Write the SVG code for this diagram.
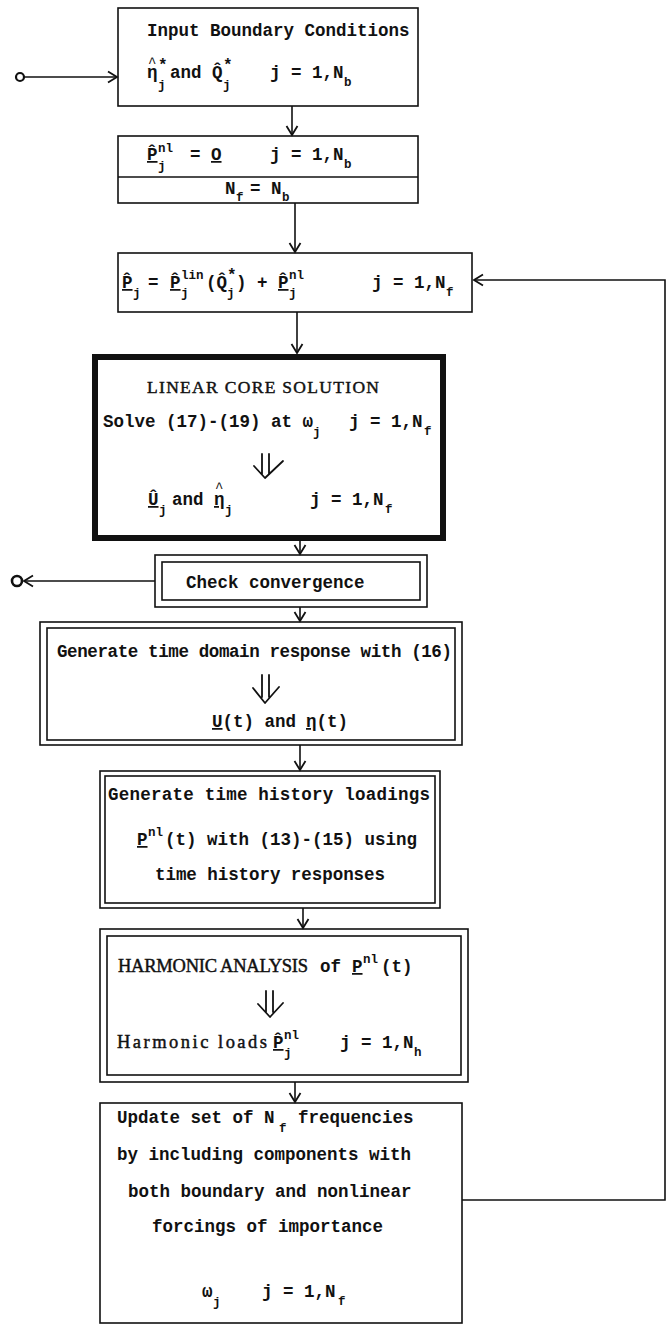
<svg xmlns="http://www.w3.org/2000/svg" width="667" height="1325" viewBox="0 0 667 1325">
  <style>
    .t { font-family: "Liberation Mono", "Courier New", monospace; font-size: 17.5px; font-weight: bold; fill: #111; }
    .s { font-size: 12.5px; }
    .st { font-size: 16px; }
    .hat { font-size: 14px; font-weight: normal; }
    .rm { font-family: "Liberation Serif", "Times New Roman", serif; font-weight: normal; stroke: #111; stroke-width: 0.45; }
    .u { text-decoration: underline; }
    .box { fill: none; stroke: #111; stroke-width: 1.6; }
    .thick { fill: none; stroke: #111; stroke-width: 6; }
    .wire { fill: none; stroke: #111; stroke-width: 1.6; }
    .sym { fill: none; stroke: #111; stroke-width: 1.8; stroke-linecap: round; stroke-linejoin: round; }
  </style>
  <defs>
    <marker id="vhead" markerUnits="userSpaceOnUse" markerWidth="14" markerHeight="14" viewBox="-10 -7 12 14" refX="0" refY="0" orient="auto">
      <path d="M-9,-5.5 L0,0 L-9,5.5" fill="none" stroke="#111" stroke-width="1.8"/>
    </marker>
  </defs>

  <rect width="667" height="1325" fill="#fff"/>

  <!-- connectors -->
  <g id="connectors">
    <circle cx="20" cy="77" r="4" fill="none" stroke="#111" stroke-width="2.2"/>
    <line class="wire" x1="24" y1="77" x2="117" y2="77" marker-end="url(#vhead)"/>
    <line class="wire" x1="292" y1="106" x2="292" y2="135" marker-end="url(#vhead)"/>
    <line class="wire" x1="295" y1="203" x2="295" y2="252" marker-end="url(#vhead)"/>
    <line class="wire" x1="297" y1="312" x2="297" y2="353" marker-end="url(#vhead)"/>
    <line class="wire" x1="300" y1="541" x2="300" y2="554" marker-end="url(#vhead)"/>
    <line class="wire" x1="300" y1="607" x2="300" y2="621" marker-end="url(#vhead)"/>
    <line class="wire" x1="300" y1="745" x2="300" y2="770" marker-end="url(#vhead)"/>
    <line class="wire" x1="303" y1="908" x2="303" y2="928" marker-end="url(#vhead)"/>
    <line class="wire" x1="295" y1="1082" x2="295" y2="1102" marker-end="url(#vhead)"/>
    <!-- exit on convergence -->
    <line class="wire" x1="155" y1="581" x2="24" y2="581" marker-end="url(#vhead)"/>
    <circle cx="17" cy="581" r="5" fill="none" stroke="#111" stroke-width="2.6"/>
    <!-- iteration loop back to load assembly -->
    <polyline class="wire" points="462,1200 665,1200 665,280 474,280" marker-end="url(#vhead)"/>
  </g>

  <!-- boundary input -->
  <g id="n-input">
    <rect class="box" x="118" y="8" width="300" height="98"/>
    <text class="t" x="147" y="36">Input Boundary Conditions</text>
    <text class="t">
      <tspan x="147" y="78">η</tspan><tspan class="hat" x="148" y="67">^</tspan><tspan class="st" x="158" y="70">*</tspan><tspan class="s" x="158" y="89">j</tspan>
      <tspan x="170" y="78">and Q&#x302;</tspan><tspan class="st" x="223" y="70">*</tspan><tspan class="s" x="223" y="89">j</tspan>
      <tspan x="270" y="78">j = 1,N</tspan><tspan class="s" x="344" y="86">b</tspan>
    </text>
  </g>

  <!-- initial nonlinear loads -->
  <g id="n-init">
    <rect class="box" x="118" y="136" width="300" height="67"/>
    <line class="box" x1="118" y1="177" x2="418" y2="177"/>
    <text class="t">
      <tspan class="u" x="147" y="160">P&#x302;</tspan><tspan class="s" x="158" y="152">nl</tspan><tspan class="s" x="158" y="170">j</tspan>
      <tspan x="190" y="160">=</tspan><tspan class="u" x="211" y="160">O</tspan>
      <tspan x="270" y="160">j = 1,N</tspan><tspan class="s" x="344" y="168">b</tspan>
    </text>
    <text class="t">
      <tspan x="225" y="194">N</tspan><tspan class="s" x="236" y="201">f</tspan>
      <tspan x="250" y="194">= N</tspan><tspan class="s" x="282" y="201">b</tspan>
    </text>
  </g>

  <!-- total load assembly -->
  <g id="n-loads">
    <rect class="box" x="118" y="253" width="354" height="59"/>
    <text class="t">
      <tspan class="u" x="122" y="288">P&#x302;</tspan><tspan class="s" x="133" y="297">j</tspan>
      <tspan x="148" y="288">=</tspan>
      <tspan class="u" x="170" y="288">P&#x302;</tspan><tspan class="s" x="181" y="279">lin</tspan><tspan class="s" x="181" y="297">j</tspan>
      <tspan x="206" y="288">(Q&#x302;</tspan><tspan class="st" x="227" y="280">*</tspan><tspan class="s" x="227" y="297">j</tspan>
      <tspan x="236" y="288">)</tspan>
      <tspan x="257" y="288">+</tspan>
      <tspan class="u" x="278" y="288">P&#x302;</tspan><tspan class="s" x="289" y="279">nl</tspan><tspan class="s" x="289" y="297">j</tspan>
      <tspan x="372" y="288">j = 1,N</tspan><tspan class="s" x="446" y="296">f</tspan>
    </text>
  </g>

  <!-- linear core solution -->
  <g id="n-core">
    <rect class="thick" x="95" y="357" width="348" height="181"/>
    <text class="t rm" x="263" y="393" text-anchor="middle" font-size="19" textLength="232">LINEAR CORE SOLUTION</text>
    <text class="t">
      <tspan x="103" y="427">Solve (17)-(19) at ω</tspan><tspan class="s" x="313" y="436">j</tspan>
      <tspan x="349" y="427">j = 1,N</tspan><tspan class="s" x="424" y="435">f</tspan>
    </text>
    <path class="sym" d="M262,454 V474 M269,454 V474 M254,466 L265,478 L283,461"/>
    <text class="t">
      <tspan class="u" x="148" y="505">U&#x302;</tspan><tspan class="s" x="159" y="514">j</tspan>
      <tspan x="172" y="505">and</tspan>
      <tspan class="u" x="214" y="505">η</tspan><tspan class="hat" x="215" y="492">^</tspan><tspan class="s" x="225" y="514">j</tspan>
      <tspan x="310" y="505">j = 1,N</tspan><tspan class="s" x="385" y="513">f</tspan>
    </text>
  </g>

  <!-- convergence test -->
  <g id="n-check">
    <rect class="box" x="155" y="555" width="272" height="52"/>
    <rect class="box" x="162" y="562" width="258" height="38"/>
    <text class="t" x="186" y="588" font-size="19.5">Check convergence</text>
  </g>

  <!-- time domain response -->
  <g id="n-time">
    <rect class="box" x="40" y="622" width="422" height="123"/>
    <rect class="box" x="47" y="628" width="408" height="112"/>
    <text class="t" x="57" y="657" textLength="395">Generate time domain response with (16)</text>
    <path class="sym" d="M262,675 V697 M269,675 V697 M253,688 L265,703 L279,687"/>
    <text class="t">
      <tspan class="u" x="212" y="727">U</tspan><tspan x="222.5" y="727">(t) and</tspan>
      <tspan class="u" x="306" y="727">η</tspan><tspan x="316.5" y="727">(t)</tspan>
    </text>
  </g>

  <!-- nonlinear time history loads -->
  <g id="n-history">
    <rect class="box" x="100" y="771" width="340" height="137"/>
    <rect class="box" x="105" y="776" width="330" height="127"/>
    <text class="t" x="108" y="800" textLength="322">Generate time history loadings</text>
    <text class="t">
      <tspan class="u" x="137" y="845">P</tspan><tspan class="s" x="148" y="836">nl</tspan>
      <tspan x="165" y="845">(t) with (13)-(15) using</tspan>
    </text>
    <text class="t" x="155" y="880" textLength="230">time history responses</text>
  </g>

  <!-- harmonic analysis -->
  <g id="n-harmonic">
    <rect class="box" x="100" y="929" width="368" height="153"/>
    <rect class="box" x="107" y="936" width="354" height="139"/>
    <text class="t">
      <tspan class="rm" x="118" y="972" font-size="18.5" textLength="190">HARMONIC ANALYSIS</tspan>
      <tspan x="320" y="972">of</tspan>
      <tspan class="u" x="352" y="972">P</tspan><tspan class="s" x="363" y="963">nl</tspan>
      <tspan x="381" y="972">(t)</tspan>
    </text>
    <path class="sym" d="M266,991 V1012 M273,991 V1012 M258,1004 L270,1017 L283,1003"/>
    <text class="t">
      <tspan class="rm" x="117" y="1048" font-size="18.5" textLength="150">Harmonic loads</tspan>
      <tspan class="u" x="273" y="1048">P&#x302;</tspan><tspan class="s" x="284" y="1039">nl</tspan><tspan class="s" x="284" y="1057">j</tspan>
      <tspan x="340" y="1048">j = 1,N</tspan><tspan class="s" x="414" y="1056">h</tspan>
    </text>
  </g>

  <!-- frequency set update -->
  <g id="n-update">
    <rect class="box" x="100" y="1103" width="362" height="220"/>
    <text class="t" font-size="18">
      <tspan x="117" y="1123">Update set of N</tspan><tspan class="s" x="279" y="1132">f</tspan>
      <tspan x="298" y="1123">frequencies</tspan>
    </text>
    <text class="t" x="117" y="1160" font-size="18">by including components with</text>
    <text class="t" x="128" y="1197" font-size="18">both boundary and nonlinear</text>
    <text class="t" x="152" y="1232" font-size="18">forcings of importance</text>
    <text class="t" font-size="18">
      <tspan x="202" y="1297">ω</tspan><tspan class="s" x="213" y="1306">j</tspan>
      <tspan x="262" y="1297">j = 1,N</tspan><tspan class="s" x="338" y="1305">f</tspan>
    </text>
  </g>
</svg>
